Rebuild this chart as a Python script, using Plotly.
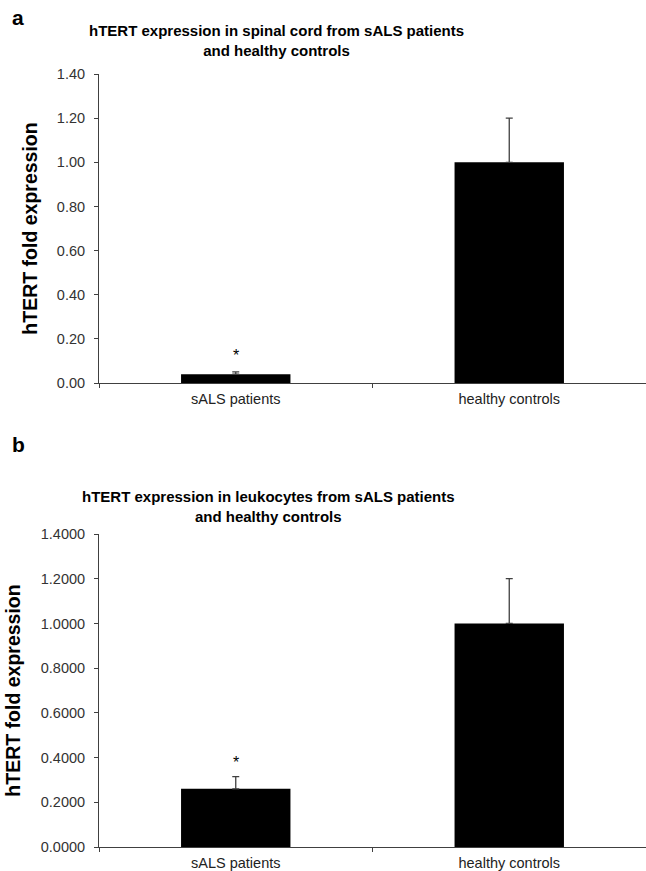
import plotly.graph_objects as go

categories = ["sALS patients", "healthy controls"]
spinal_values = [0.04, 1.00]
spinal_errors = [0.01, 0.20]
leuko_values = [0.26, 1.00]
leuko_errors = [0.055, 0.20]
spinal_ticks = [0, 0.2, 0.4, 0.6, 0.8, 1.0, 1.2, 1.4]
spinal_ticklabels = ["0.00", "0.20", "0.40", "0.60", "0.80", "1.00", "1.20", "1.40"]
leuko_ticklabels = ["0.0000", "0.2000", "0.4000", "0.6000", "0.8000", "1.0000", "1.2000", "1.4000"]
title_a = "hTERT expression in spinal cord from sALS patients<br>and healthy controls"
title_b = "hTERT expression in leukocytes from sALS patients<br>and healthy controls"
ytitle = "hTERT fold expression"

W, H = 646, 871
ML, MR, MT, MB = 99, 0, 74, 24
PH = H - MT - MB
axcol = "#404040"
font = "Liberation Sans, Arial, sans-serif"

fig = go.Figure()
for vals, errs, xa, ya in [(spinal_values, spinal_errors, "x", "y"),
                           (leuko_values, leuko_errors, "x2", "y2")]:
    fig.add_trace(go.Bar(
        x=categories, y=vals, xaxis=xa, yaxis=ya,
        marker=dict(color="black", line=dict(width=0)),
        error_y=dict(type="data", array=errs, arrayminus=[0, 0], symmetric=False,
                     color=axcol, thickness=1.3, width=3.5),
        width=0.4, showlegend=False, hoverinfo="skip",
    ))

def dy(px):
    return (H - MB - px) / PH

def py(px):
    return (H - MB - px) / PH

def px_(x):
    return (x - ML) / (W - ML - MR)

xcommon = dict(type="category", showline=True, linecolor=axcol, linewidth=1,
               ticks="outside", tickson="boundaries", ticklen=4, tickcolor=axcol,
               ticklabelstandoff=3,
               tickfont=dict(family=font, size=14.5, color="#222"), showgrid=False,
               zeroline=False, domain=[0, 1.0], fixedrange=True, automargin=False)
ycommon = dict(range=[0, 1.4], showline=True, linecolor=axcol, linewidth=1,
               ticks="outside", ticklen=4, tickcolor=axcol, showgrid=False,
               zeroline=False, tickvals=spinal_ticks, ticklabelstandoff=6,
               tickfont=dict(family=font, size=14.5, color="#333"),
               title=dict(text="<b>" + ytitle + "</b>",
                          font=dict(family=font, size=19.5, color="black"), standoff=14),
               fixedrange=True, automargin=False)

fig.update_layout(
    width=W, height=H,
    margin=dict(l=ML, r=MR, t=MT, b=MB, autoexpand=False),
    plot_bgcolor="white", paper_bgcolor="white",
    bargap=0.6,
    xaxis=dict(**xcommon, anchor="y"),
    xaxis2=dict(**xcommon, anchor="y2"),
    yaxis=dict(**ycommon, ticktext=spinal_ticklabels, domain=[dy(383), dy(74)], anchor="x"),
    yaxis2=dict(**ycommon, ticktext=leuko_ticklabels, domain=[dy(847), dy(534)], anchor="x2"),
)

ann = []
ann.append(dict(text="<b>a</b>", x=px_(10), y=py(18), xref="paper", yref="paper",
                xanchor="left", yanchor="middle", showarrow=False,
                font=dict(family=font, size=21, color="black")))
ann.append(dict(text="<b>b</b>", x=px_(10), y=py(445), xref="paper", yref="paper",
                xanchor="left", yanchor="middle", showarrow=False,
                font=dict(family=font, size=21, color="black")))
ann.append(dict(text="<b>" + title_a + "</b>", x=px_(276), y=py(40), xref="paper", yref="paper",
                xanchor="center", yanchor="middle", showarrow=False,
                font=dict(family=font, size=15, color="black")))
ann.append(dict(text="<b>" + title_b + "</b>", x=px_(268), y=py(506), xref="paper", yref="paper",
                xanchor="center", yanchor="middle", showarrow=False,
                font=dict(family=font, size=15, color="black")))
ann.append(dict(text="*", x=categories[0], y=spinal_values[0] + spinal_errors[0], xref="x", yref="y",
                yanchor="bottom", yshift=6, showarrow=False,
                font=dict(family=font, size=16, color="black")))
ann.append(dict(text="*", x=categories[0], y=leuko_values[0] + leuko_errors[0], xref="x2", yref="y2",
                yanchor="bottom", yshift=4, showarrow=False,
                font=dict(family=font, size=16, color="black")))
fig.update_layout(annotations=ann)

fig.write_html("out.html", config={"displayModeBar": False},
               post_script="document.body.style.margin='0';document.body.style.overflow='hidden';")
